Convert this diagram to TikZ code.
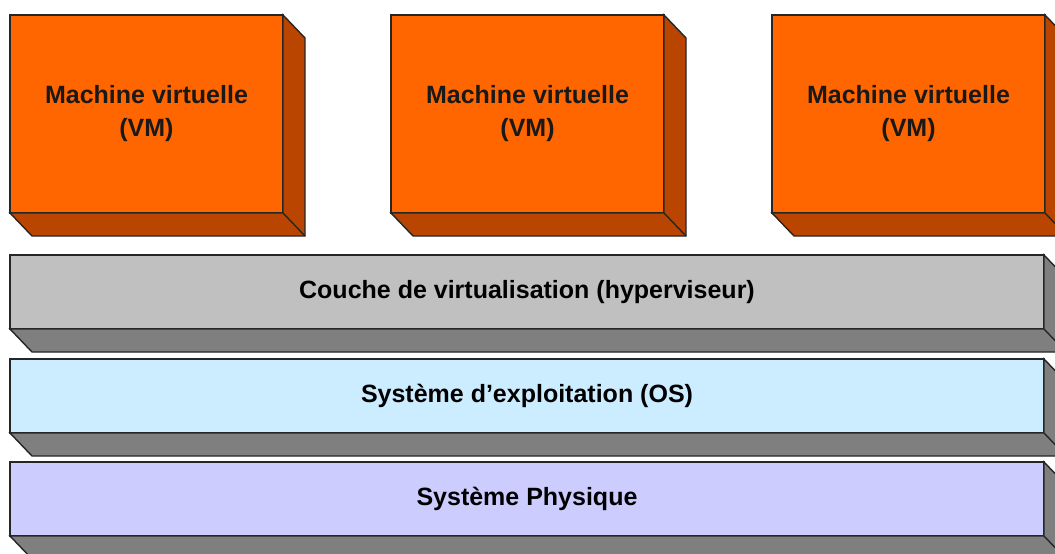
\documentclass[tikz,border=0pt]{standalone}
\usepackage{fontspec}
\setmainfont{Liberation Sans}
\usepackage{tikz}
\usetikzlibrary{positioning,calc}
\usepackage{xcolor}
\definecolor{vmfront}{HTML}{FF6600}
\definecolor{vmside}{HTML}{BA4500}
\definecolor{hypfront}{HTML}{C0C0C0}
\definecolor{osfront}{HTML}{CCECFF}
\definecolor{phyfront}{HTML}{CCCCFF}
\definecolor{layside}{HTML}{7F7F7F}
% oblique depth under and right of a front face
\newcommand\extrude[2]{%
  \filldraw[depth, fill=#2] (#1.north east) -- ++(22,23) -- ($(#1.south east)+(22,23)$)
    -- ($(#1.south west)+(22,23)$) -- (#1.south west) -- (#1.south east) -- cycle;
  \draw[depth] (#1.south east) -- ++(22,23);}

\begin{document}
\begin{tikzpicture}[x=1pt, y=-1pt,
  face/.style={draw=black!85, line width=1.4pt, rectangle, inner sep=0pt, outer sep=0pt, align=center, font=\bfseries\fontsize{25}{33}\selectfont},
  vmbox/.style={face, fill=vmfront, text=black!90, minimum width=273pt, minimum height=198pt},
  layer/.style={face, minimum width=1034pt, minimum height=74pt},
  depth/.style={draw=black!85, line width=1.4pt, line join=miter},
]
  \clip (0,0) rectangle (1055,554);
  \fill[white] (0,0) rectangle (1055,554);

  % virtual machines
  \foreach \i/\x in {1/146.5, 2/527.5, 3/908.5}{
    \node[vmbox] (vm\i) at (\x,114) {Machine virtuelle\\(VM)};
    \extrude{vm\i}{vmside}
  }

  % layers
  \node[layer, fill=hypfront] (hyper) at (527,292) {Couche de virtualisation (hyperviseur)};
  \extrude{hyper}{layside}
  \node[layer, fill=osfront] (os) at (527,396) {Système d’exploitation (OS)};
  \extrude{os}{layside}
  \node[layer, fill=phyfront] (phys) at (527,499) {Système Physique};
  \extrude{phys}{layside}
\end{tikzpicture}
\end{document}
